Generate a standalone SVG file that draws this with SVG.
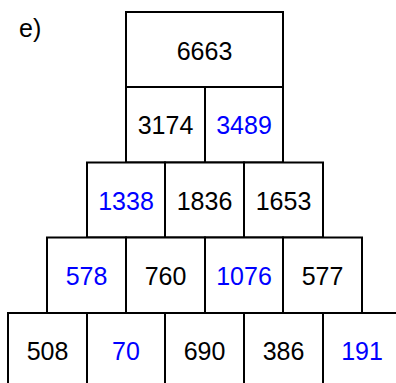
<svg xmlns="http://www.w3.org/2000/svg" width="396" height="383" viewBox="0 0 396 383">
<style>
rect{fill:#fff;stroke:#000;stroke-width:2}
text{font-family:"Liberation Sans",Arial,sans-serif;font-size:25px;text-anchor:middle;fill:#000}
.b{fill:#0000ff}
</style>
<rect x="0" y="0" width="396" height="383" style="stroke:none"/>
<text x="19" y="37" style="text-anchor:start">e)</text>
<g id="r1c1"><rect x="126" y="12" width="157" height="75"/><text x="204.5" y="60">6663</text></g>
<g id="r2c1"><rect x="126" y="87" width="79" height="75.5"/><text x="165.5" y="134">3174</text></g>
<g id="r2c2"><rect x="205" y="87" width="78" height="75.5"/><text class="b" x="244" y="134">3489</text></g>
<g id="r3c1"><rect x="87" y="162.5" width="78" height="75"/><text class="b" x="126" y="209.5">1338</text></g>
<g id="r3c2"><rect x="165" y="162.5" width="79" height="75"/><text x="204.5" y="209.5">1836</text></g>
<g id="r3c3"><rect x="244" y="162.5" width="79" height="75"/><text x="283.5" y="209.5">1653</text></g>
<g id="r4c1"><rect x="47" y="237.5" width="79" height="75.5"/><text class="b" x="86.5" y="284.5">578</text></g>
<g id="r4c2"><rect x="126" y="237.5" width="79" height="75.5"/><text x="165.5" y="284.5">760</text></g>
<g id="r4c3"><rect x="205" y="237.5" width="78" height="75.5"/><text class="b" x="244" y="284.5">1076</text></g>
<g id="r4c4"><rect x="283" y="237.5" width="79" height="75.5"/><text x="322.5" y="284.5">577</text></g>
<g id="r5c1"><rect x="8" y="313" width="79" height="76"/><text x="47.5" y="360">508</text></g>
<g id="r5c2"><rect x="87" y="313" width="78" height="76"/><text class="b" x="126" y="360">70</text></g>
<g id="r5c3"><rect x="165" y="313" width="79" height="76"/><text x="204.5" y="360">690</text></g>
<g id="r5c4"><rect x="244" y="313" width="79" height="76"/><text x="283.5" y="360">386</text></g>
<g id="r5c5"><rect x="323" y="313" width="79" height="76"/><text class="b" x="362" y="360">191</text></g>
</svg>
